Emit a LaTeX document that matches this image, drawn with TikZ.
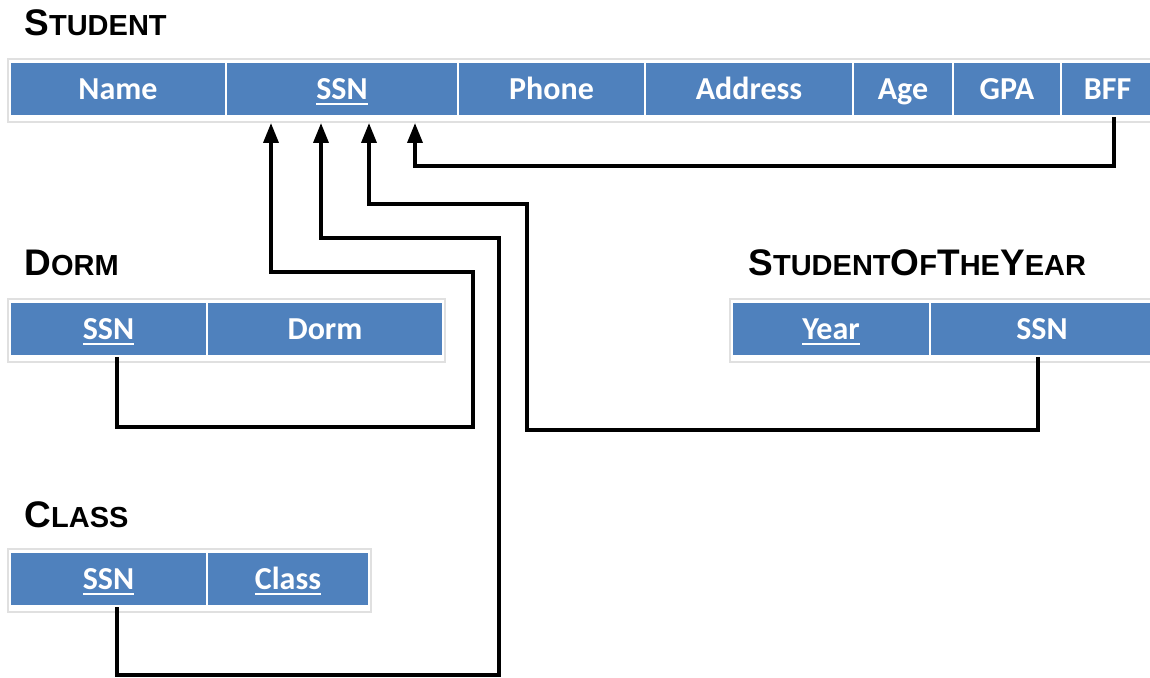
\documentclass[tikz,border=0pt]{standalone}
\usepackage{fontspec}
\setmainfont{Carlito}
\newfontfamily\titlefont{Liberation Sans}
\usetikzlibrary{arrows.meta}

\definecolor{cellblue}{HTML}{4F81BD}
\definecolor{framegray}{HTML}{E0E0E0}

% small caps by hand
\newcommand{\Up}[1]{{\fontsize{18.5}{20}\selectfont #1}}
\newcommand{\Lo}[1]{{\fontsize{14.5}{16}\selectfont #1}}
% key attribute, underlined
\newcommand{\pk}[1]{\setbox0\hbox{#1}\rlap{\rule[-3pt]{\wd0}{1pt}}\box0}

\tikzset{
	cell/.style={draw=white, line width=1pt, fill=cellblue, text=white,
		font=\fontsize{16}{18}\selectfont\bfseries, inner sep=0pt,
		minimum height=27pt, text height=10.3pt, text depth=0pt},
	reltitle/.style={anchor=base west, inner sep=0pt, font=\titlefont\bfseries},
	fk/.style={line width=1.8pt, -{Triangle[length=10pt,width=7.5pt]}, shorten >=3pt},
	tblframe/.style={draw=framegray, line width=0.6pt}
}

\begin{document}
\begin{tikzpicture}[x=0.5pt, y=-0.5pt]

	\useasboundingbox (0,0) rectangle (1150,678);

	% titles
	\node[reltitle] (stu-title) at (24,36) {\Up{S}\Lo{TUDENT}};
	\node[reltitle] (dorm-title) at (24,276) {\Up{D}\Lo{ORM}};
	\node[reltitle] (soty-title) at (748,276) {\Up{S}\Lo{TUDENT}\Up{O}\Lo{F}\Up{T}\Lo{HE}\Up{Y}\Lo{EAR}};
	\node[reltitle] (cls-title) at (24,527) {\Up{C}\Lo{LASS}};

	% light frames round the tables
	\draw[tblframe] (8,59) rectangle (1156,122);
	\draw[tblframe] (8,299) rectangle (445,362);
	\draw[tblframe] (730,299) rectangle (1156,362);
	\draw[tblframe] (8,549) rectangle (371,612);

	% cells
	\foreach \n/\l/\r/\t in {name/10/226/Name, ssn/226/458/\pk{SSN}, phone/458/645/Phone,
		addr/645/853/Address, age/853/953/Age, gpa/953/1061/GPA, bff/1061/1154/BFF}
	{
		\node[cell, minimum width={(\r-\l)*0.5pt}] (stu-\n) at ({(\l+\r)/2},89) {\t};
	}
	\foreach \n/\l/\r/\t in {ssn/10/207/\pk{SSN}, dorm/207/443/Dorm}
	{
		\node[cell, minimum width={(\r-\l)*0.5pt}] (dorm-\n) at ({(\l+\r)/2},329) {\t};
	}
	\foreach \n/\l/\r/\t in {year/732/930/\pk{Year}, ssn/930/1154/SSN}
	{
		\node[cell, minimum width={(\r-\l)*0.5pt}] (soty-\n) at ({(\l+\r)/2},329) {\t};
	}
	\foreach \n/\l/\r/\t in {ssn/10/207/\pk{SSN}, cls/207/369/\pk{Class}}
	{
		\node[cell, minimum width={(\r-\l)*0.5pt}] (cls-\n) at ({(\l+\r)/2},579) {\t};
	}

	% foreign keys
	\draw[fk] (117,0 |- dorm-ssn.south) |- (473,427) |- (271,272) -- (271,0 |- stu-ssn.south);
	\draw[fk] (117,0 |- cls-ssn.south) |- (499,675) |- (321,238) -- (321,0 |- stu-ssn.south);
	\draw[fk] (1038,0 |- soty-ssn.south) |- (527,430) |- (369,204) -- (369,0 |- stu-ssn.south);
	\draw[fk] (1114,0 |- stu-bff.south) |- (415,166) -- (415,0 |- stu-ssn.south);

\end{tikzpicture}
\end{document}
